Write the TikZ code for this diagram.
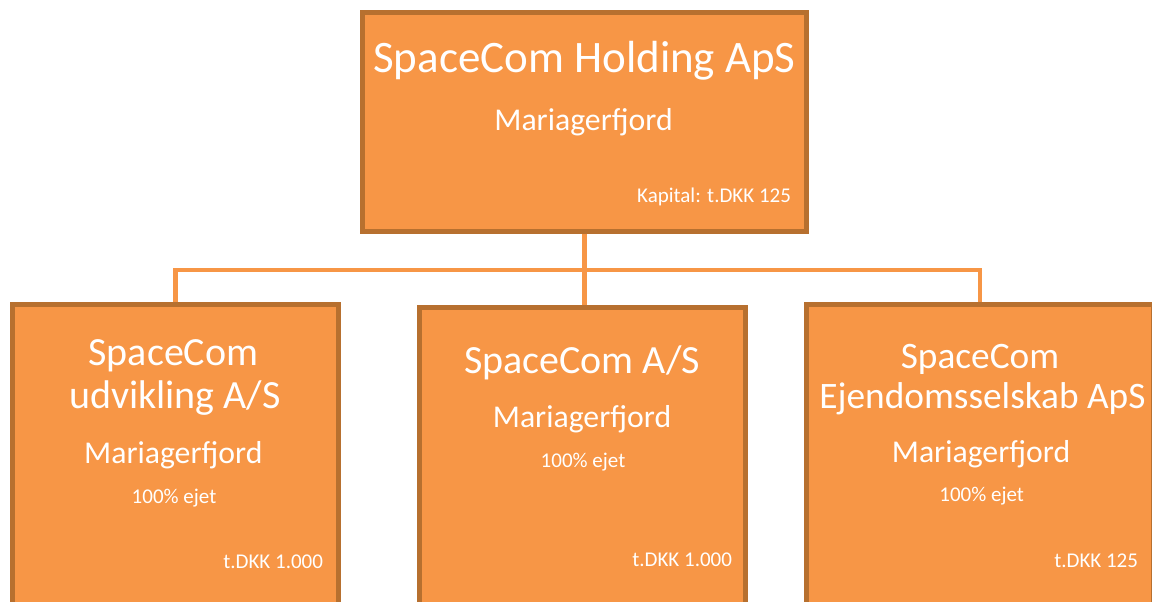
\documentclass[tikz,border=0pt]{standalone}
\usepackage{fontspec}
\setmainfont{Carlito}
\usetikzlibrary{backgrounds}
\definecolor{boxfill}{HTML}{F79646}
\definecolor{boxline}{HTML}{B7702F}
\definecolor{connline}{HTML}{F79646}
\tikzset{
  orgbox/.style={draw=boxline, fill=boxfill, line width=3.75pt, rectangle, inner sep=0pt, outer sep=0pt},
  conn/.style={draw=connline, line width=3.4pt},
  txt/.style={text=white, inner sep=0pt, outer sep=0pt, anchor=base},
  rtxt/.style={txt, anchor=base east},
  fhuge/.style={font=\fontsize{33.75}{40}\selectfont},
  flarge/.style={font=\fontsize{30}{36}\selectfont},
  flargeb/.style={font=\fontsize{28}{34}\selectfont},
  fmed/.style={font=\fontsize{23.8}{28}\selectfont},
  fsmall/.style={font=\fontsize{15.75}{19}\selectfont},
}
\begin{document}
\begin{tikzpicture}[x=0.75pt, y=-0.75pt]
\useasboundingbox (0,0) rectangle (1152,601);
\clip (0,0) rectangle (1152,601);
% boxes
\node[orgbox, minimum width=333.375pt, minimum height=164.25pt] (top) at (584.25,121.5) {};
\node[orgbox, minimum width=244.5pt, minimum height=251.6pt] (left) at (175.5,472.25) {};
\node[orgbox, minimum width=244.5pt, minimum height=249.4pt] (mid) at (582.5,473.75) {};
\node[orgbox, minimum width=260.25pt, minimum height=251.6pt] (right) at (980,472.25) {};
% connectors
\coordinate (bus) at (583,270);
\begin{scope}[on background layer]
\draw[conn] (left.north) |- (bus) -| (right.north);
\draw[conn] (top.south) -- (top.south |- mid.north);
\end{scope}
% top texts
\node[txt, fhuge] (t1) at (584.5,72) {SpaceCom Holding ApS};
\node[txt, fmed] (t2) at (583.5,130) {Mariagerfjord};
\node[rtxt, fsmall] (t3) at (791,202) {Kapital: t.DKK 125};
% left texts
\node[txt, flarge] (l1) at (173.5,365) {SpaceCom};
\node[txt, flarge] (l2) at (175,408) {udvikling A/S};
\node[txt, fmed] (l3) at (173.3,463) {Mariagerfjord};
\node[txt, fsmall] (l4) at (174,503) {100\% ejet};
\node[rtxt, fsmall] (l5) at (323,568) {t.DKK 1.000};
% middle texts
\node[txt, flarge] (m1) at (582,373) {SpaceCom A/S};
\node[txt, fmed] (m2) at (582,427) {Mariagerfjord};
\node[txt, fsmall] (m3) at (583,467) {100\% ejet};
\node[rtxt, fsmall] (m4) at (732,566) {t.DKK 1.000};
% right texts
\node[txt, flargeb] (r1) at (980,368) {SpaceCom};
\node[txt, flargeb] (r2) at (982.5,408) {Ejendomsselskab ApS};
\node[txt, fmed] (r3) at (981,462) {Mariagerfjord};
\node[txt, fsmall] (r4) at (981.7,501) {100\% ejet};
\node[rtxt, fsmall] (r5) at (1138,567) {t.DKK 125};
\end{tikzpicture}
\end{document}
